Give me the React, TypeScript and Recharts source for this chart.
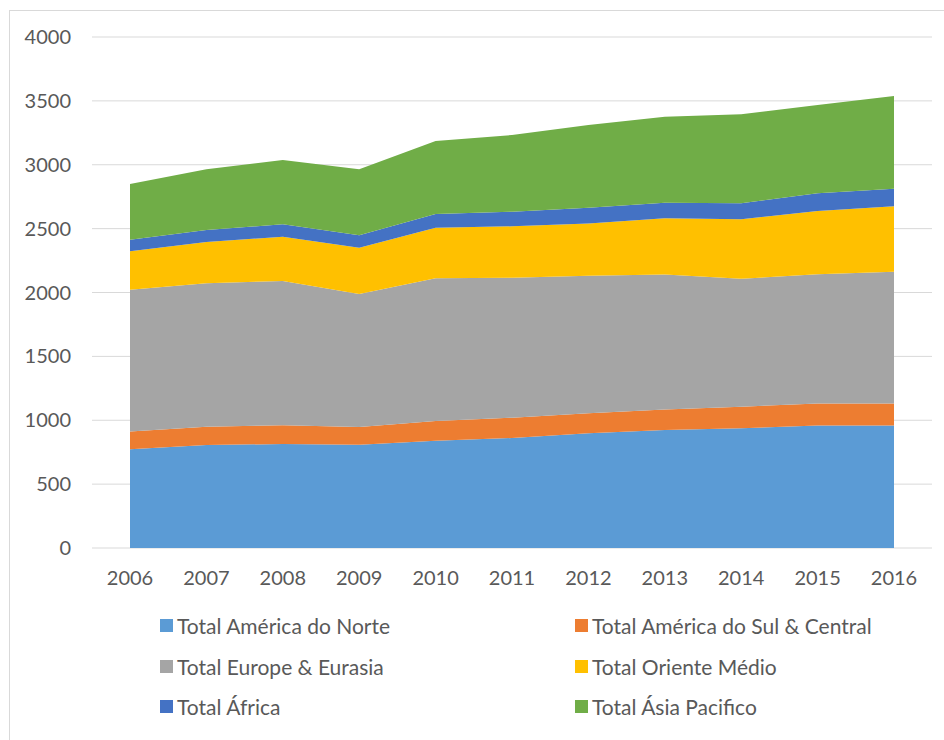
import { AreaChart, Area, XAxis, YAxis, CartesianGrid } from "recharts";

// Consumo de gás natural por região, 2006–2016
const years = ["2006", "2007", "2008", "2009", "2010", "2011", "2012", "2013", "2014", "2015", "2016"];
const americaNorte = [773, 806, 814, 809, 840, 861, 898, 924, 937, 958, 958];
const americaSulCentral = [138, 144, 146, 138, 154, 159, 156, 161, 169, 174, 174];
const europeEurasia = [1110, 1122, 1130, 1041, 1117, 1096, 1078, 1055, 1002, 1010, 1031];
const orienteMedio = [302, 323, 347, 363, 396, 402, 409, 441, 465, 496, 512];
const africa = [89, 94, 97, 97, 107, 115, 123, 122, 125, 138, 138];
const asiaPacifico = [438, 475, 503, 516, 572, 600, 647, 673, 697, 692, 725];

const yTicks = [0, 500, 1000, 1500, 2000, 2500, 3000, 3500, 4000];
const boundaryTicks = [0, 1, 2, 3, 4, 5, 6, 7, 8, 9, 10, 11];

const series = [
  { key: "na", name: "Total América do Norte", color: "#5B9BD5", values: americaNorte },
  { key: "sca", name: "Total América do Sul & Central", color: "#ED7D31", values: americaSulCentral },
  { key: "ee", name: "Total Europe & Eurasia", color: "#A5A5A5", values: europeEurasia },
  { key: "me", name: "Total Oriente Médio", color: "#FFC000", values: orienteMedio },
  { key: "af", name: "Total África", color: "#4472C4", values: africa },
  { key: "ap", name: "Total Ásia Pacifico", color: "#70AD47", values: asiaPacifico },
];

const data = years.map((year, i) => {
  const row: Record<string, string | number> = { year };
  series.forEach((s) => {
    row[s.key] = s.values[i];
  });
  return row;
});

const FONT = "Lato, 'Open Sans', sans-serif";
const TEXT = "#595959";
const GRID = "#d9d9d9";

export default function App() {
  return (
    <div style={{ position: "relative", width: 944, height: 740, overflow: "hidden", background: "#fff", fontFamily: FONT }}>
      <style>{`body{margin:0}`}</style>
      <div
        style={{
          position: "absolute",
          left: 9,
          top: 10,
          right: -10,
          bottom: -10,
          border: `1px solid ${GRID}`,
        }}
      />
      <div style={{ position: "absolute", left: 0, top: 0 }}>
        <AreaChart width={944} height={600} data={data} margin={{ top: 37, right: 12, left: 0, bottom: 0 }}>
          <CartesianGrid xAxisId="cat" stroke={GRID} vertical={false} />
          <XAxis
            xAxisId="grid"
            type="number"
            domain={[0, 11]}
            ticks={boundaryTicks}
            allowDataOverflow
            height={0}
            tickFormatter={() => ""}
            tickSize={7}
            tickLine={{ stroke: GRID }}
            axisLine={{ stroke: GRID }}
          />
          <XAxis
            xAxisId="cat"
            dataKey="year"
            height={52}
            padding={{ left: 38, right: 38 }}
            axisLine={false}
            tickLine={false}
            tickSize={6}
            tickMargin={17}
            interval={0}
            tick={{ fontSize: 20, fill: TEXT, fontFamily: FONT }}
          />
          <YAxis
            domain={[0, 4000]}
            ticks={yTicks}
            width={92}
            axisLine={false}
            tickLine={false}
            tickSize={6}
            tickMargin={15}
            tick={{ fontSize: 20, fill: TEXT, fontFamily: FONT }}
          />
          {series.map((s) => (
            <Area
              key={s.key}
              xAxisId="cat"
              type="linear"
              dataKey={s.key}
              name={s.name}
              stackId="1"
              fill={s.color}
              fillOpacity={1}
              stroke="none"
              isAnimationActive={false}
            />
          ))}
        </AreaChart>
      </div>
      <div
        style={{
          position: "absolute",
          left: 160,
          top: 612,
          display: "grid",
          gridTemplateColumns: "415px 360px",
          rowGap: 13.5,
          fontSize: 21,
          color: TEXT,
        }}
      >
        {series.map((s) => (
          <div key={s.key} style={{ display: "flex", alignItems: "center", height: 27 }}>
            <span style={{ width: 13, height: 13, background: s.color, marginRight: 4, display: "inline-block" }} />
            <span>{s.name}</span>
          </div>
        ))}
      </div>
    </div>
  );
}
